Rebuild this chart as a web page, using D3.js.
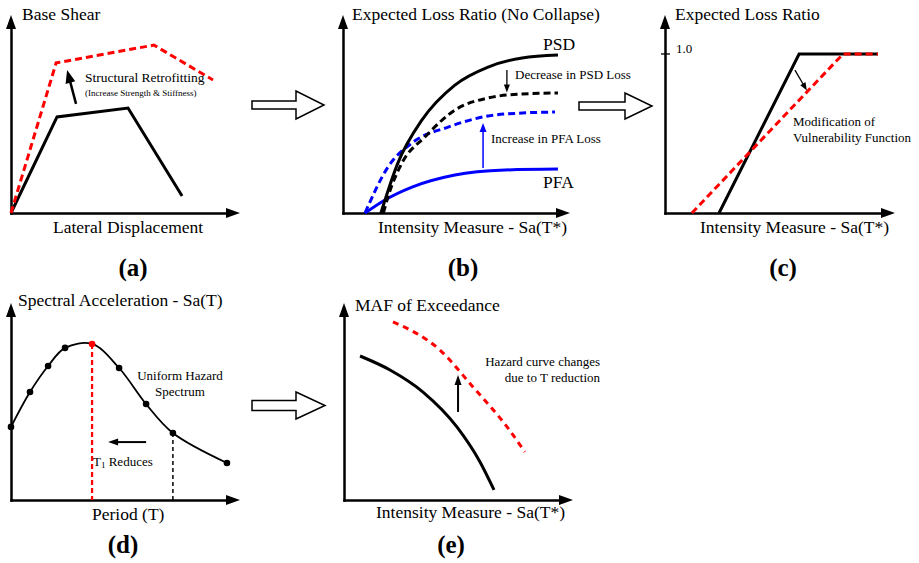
<!DOCTYPE html>
<html><head><meta charset="utf-8">
<script src="https://cdn.jsdelivr.net/npm/d3@7"></script>
<style>
body{margin:0;background:#fff}
svg{display:block}
text{font-family:"Liberation Serif","Times New Roman",serif;fill:#000}
</style>
</head><body>
<svg id="fig" width="919" height="563"></svg>
<script>
// ---------------- DATA (schematic units: x 0-100 along axis, y 0-100 up the axis) ----------------
// (a) pushover curves
const aOriginal = [[0,0],[20.1,48.5],[51.1,53.0],[74.7,8.6]];
const aRetrofit = [[0,0],[19.7,75.8],[62.4,84.8],[88.2,67.2]];
// (b) expected loss ratio curves
const bPSD      = [[16.7,0],[24.2,25.3],[34.8,47.0],[49.3,64.6],[63.9,73.7],[78.9,78.3],[94.7,79.8]];
const bPSDnew   = [[17.8,0],[19.8,8.1],[26.0,25.3],[36.1,38.4],[49.3,52.0],[63.9,58.1],[78.9,60.1],[94.7,60.6]];
const bPFAnew   = [[9.7,0],[19.8,23.2],[30.4,35.4],[46.3,43.4],[63.9,49.0],[78.9,50.5],[93.4,51.0]];
const bPFA      = [[9.7,0],[18.5,6.6],[30.4,13.1],[49.3,19.2],[71.4,21.7],[94.7,22.2]];
// (c) vulnerability functions (y = loss ratio)
const cOriginal = [[23.5,0],[58.3,1.0],[92.6,1.0]];
const cModified = [[11.7,0],[77.4,1.0],[92.6,1.0]];
const cTicks    = [1.0];
// (d) uniform hazard spectrum
const dPeriod = [0,8.3,16.2,23.6,35.4,47.2,59.0,70.7,94.3];
const dSa     = [37.1,54.8,68.0,77.2,79.2,67.0,48.7,34.0,18.8];
const dT1new = 4, dT1old = 7;
// (e) hazard curves
const eOriginal = [[7.0,73.1],[20.1,66.0],[34.5,54.8],[49.3,37.1],[59.4,19.3],[65.5,5.1]];
const eModified = [[21.4,90.4],[41.9,76.1],[56.3,57.4],[71.2,37.1],[79.0,24.4]];

// ---------------- LAYOUT ----------------
const svg = d3.select("#fig");
const RED = "#ff0000", BLUE = "#0000ff";
const panels = {
  a:{ox:11,  oy:213, xt:240, yt:15},
  b:{ox:343, oy:213, xt:570, yt:15},
  c:{ox:665, oy:213, xt:895, yt:15, yMax:1.245},
  d:{ox:11,  oy:500, xt:240, yt:303},
  e:{ox:344, oy:500, xt:573, yt:303}
};

function makePanel(p){
  const x = d3.scaleLinear([0,100],[p.ox,p.xt]);
  const y = d3.scaleLinear([0,p.yMax||100],[p.oy,p.yt]);
  const g = svg.append("g");
  g.append("g").attr("transform",`translate(0,${p.oy})`)
    .call(d3.axisBottom(x.copy().range([p.ox-1.25,p.xt-10])).tickValues([]).tickSizeOuter(0));
  g.append("g").attr("transform",`translate(${p.ox},0)`)
    .call(d3.axisLeft(y.copy().range([p.oy+1.25,p.yt+10])).tickValues([]).tickSizeOuter(0));
  g.selectAll(".domain").attr("stroke","#000").attr("stroke-width",2.5);
  g.append("path").attr("d",`M${p.xt},${p.oy}L${p.xt-14},${p.oy-5}L${p.xt-14},${p.oy+5}Z`).attr("fill","#000");
  g.append("path").attr("d",`M${p.ox},${p.yt}L${p.ox-5},${p.yt+14}L${p.ox+5},${p.yt+14}Z`).attr("fill","#000");
  return {x,y,g};
}

function curve(P, data, opt){
  const line = d3.line().x(d=>P.x(d[0])).y(d=>P.y(d[1])).curve(opt.curve||d3.curveLinear);
  P.g.append("path").attr("d",line(data)).attr("fill","none")
    .attr("stroke",opt.color||"#000").attr("stroke-width",opt.w||3)
    .attr("stroke-dasharray",opt.dash||null).attr("stroke-linejoin","miter");
}

function arrow(g,x1,y1,x2,y2,o){
  const w=o.w||2, hl=o.hl||10, hw=o.hw||7, c=o.color||"#000";
  const a=Math.atan2(y2-y1,x2-x1), ca=Math.cos(a), sa=Math.sin(a);
  g.append("line").attr("x1",x1).attr("y1",y1).attr("x2",x2-ca*hl*0.7).attr("y2",y2-sa*hl*0.7)
    .attr("stroke",c).attr("stroke-width",w);
  const bx=x2-ca*hl, by=y2-sa*hl;
  g.append("path").attr("d",`M${x2},${y2}L${bx+sa*hw/2},${by-ca*hw/2}L${bx-sa*hw/2},${by+ca*hw/2}Z`).attr("fill",c);
}

function hollow(x0,x1,xh,yc,sh,hh){
  svg.append("path").attr("d",`M${x0},${yc-sh/2}H${x1}V${yc-hh/2}L${xh},${yc}L${x1},${yc+hh/2}V${yc+sh/2}H${x0}Z`)
    .attr("fill","#fff").attr("stroke","#000").attr("stroke-width",1.5);
}

function text(x,y,s,size,o={}){
  return svg.append("text").attr("x",x).attr("y",y).attr("font-size",size)
    .attr("text-anchor",o.anchor||"start").attr("font-weight",o.bold?"bold":null).text(s);
}

// ---------------- PANEL (a) ----------------
const A = makePanel(panels.a);
curve(A, aOriginal, {w:3});
curve(A, aRetrofit, {w:3, color:RED, dash:"7,4"});
arrow(A.g, A.x(28.4), A.y(55.1), A.x(24.5), A.y(72.2), {w:2.5, hl:13, hw:10});
text(22,20,"Base Shear",17.5);
text(53,233,"Lateral Displacement",17.5);
text(85,82,"Structural Retrofitting",13.5);
text(85,96,"(Increase Strength & Stiffness)",9);
text(133,276,"(a)",25,{anchor:"middle",bold:true});

// ---------------- PANEL (b) ----------------
const B = makePanel(panels.b);
curve(B, bPFA,    {w:3, color:BLUE, curve:d3.curveMonotoneX});
curve(B, bPFAnew, {w:3, color:BLUE, dash:"7,4", curve:d3.curveMonotoneX});
curve(B, bPSDnew, {w:3, dash:"7,4", curve:d3.curveMonotoneX});
curve(B, bPSD,    {w:3, curve:d3.curveMonotoneX});
arrow(B.g, B.x(72.2), B.y(72.2), B.x(72.2), B.y(60.8), {w:1.3, hl:8, hw:6});
arrow(B.g, B.x(61.7), B.y(22.7), B.x(61.7), B.y(45.5), {w:1.5, hl:9, hw:7, color:BLUE});
text(352,20,"Expected Loss Ratio (No Collapse)",17.5);
text(378,233,"Intensity Measure - Sa(T*)",17.5);
text(543,50,"PSD",17.5);
text(543,188,"PFA",17.5);
text(515,79,"Decrease in PSD Loss",13);
text(491,143,"Increase in PFA Loss",13);
text(463,276,"(b)",25,{anchor:"middle",bold:true});

// ---------------- PANEL (c) ----------------
const C = makePanel(panels.c);
cTicks.forEach(t=>{
  C.g.append("line").attr("x1",panels.c.ox-4).attr("x2",panels.c.ox+5)
    .attr("y1",C.y(t)).attr("y2",C.y(t)).attr("stroke","#000").attr("stroke-width",1.3);
  text(panels.c.ox+11, C.y(t)-0.5, d3.format(".1f")(t), 13);
});
curve(C, cOriginal, {w:3});
curve(C, cModified, {w:3, color:RED, dash:"7,4"});
arrow(C.g, C.x(56.5), C.y(0.898), C.x(61.7), C.y(0.77), {w:1.3, hl:8, hw:6});
text(675,20,"Expected Loss Ratio",17.5);
text(700,233,"Intensity Measure - Sa(T*)",17.5);
text(793,126,"Modification of",13);
text(793,142,"Vulnerability Function",13);
text(783,276,"(c)",25,{anchor:"middle",bold:true});

// ---------------- PANEL (d) ----------------
const D = makePanel(panels.d);
const dPts = dPeriod.map((p,i)=>[p,dSa[i]]);
D.g.append("line").attr("x1",D.x(dPeriod[dT1new])).attr("x2",D.x(dPeriod[dT1new]))
  .attr("y1",D.y(dSa[dT1new])).attr("y2",D.y(0)).attr("stroke",RED).attr("stroke-width",2.2).attr("stroke-dasharray","5,3");
D.g.append("line").attr("x1",D.x(dPeriod[dT1old])).attr("x2",D.x(dPeriod[dT1old]))
  .attr("y1",D.y(dSa[dT1old])).attr("y2",D.y(0)).attr("stroke","#000").attr("stroke-width",1.5).attr("stroke-dasharray","4,3");
curve(D, dPts, {w:1.8, curve:d3.curveCatmullRom.alpha(0.5)});
D.g.selectAll("circle").data(dPts).join("circle")
  .attr("cx",d=>D.x(d[0])).attr("cy",d=>D.y(d[1])).attr("r",3.3)
  .attr("fill",(d,i)=>i===dT1new?RED:"#000");
arrow(D.g, D.x(59.0), D.y(29.4), D.x(42.4), D.y(29.4), {w:2, hl:10, hw:7});
text(18,306,"Spectral Acceleration - Sa(T)",17.5);
text(92,520,"Period (T)",17.5);
text(180,380,"Uniform Hazard",13,{anchor:"middle"});
text(180,396,"Spectrum",13,{anchor:"middle"});
const tr = text(93,466,"",13);
tr.append("tspan").text("T");
tr.append("tspan").attr("font-size",9).attr("dy",2).text("1");
tr.append("tspan").attr("dy",-2).text(" Reduces");
text(123,553,"(d)",25,{anchor:"middle",bold:true});

// ---------------- PANEL (e) ----------------
const E = makePanel(panels.e);
curve(E, eOriginal, {w:3, curve:d3.curveMonotoneX});
curve(E, eModified, {w:3, color:RED, dash:"6,5", curve:d3.curveMonotoneX});
arrow(E.g, E.x(49.8), E.y(44.7), E.x(49.8), E.y(63.5), {w:2, hl:10, hw:7});
text(355,311,"MAF of Exceedance",17.5);
text(376,518,"Intensity Measure - Sa(T*)",17.5);
text(600,366,"Hazard curve changes",13,{anchor:"end"});
text(600,382,"due to T reduction",13,{anchor:"end"});
text(451,553,"(e)",25,{anchor:"middle",bold:true});

// ---------------- FLOW ARROWS ----------------
hollow(252,296,324,105,8,28);
hollow(579,625,652,106,8,26);
hollow(252,296,325,405.5,10,27);
</script>
</body></html>
